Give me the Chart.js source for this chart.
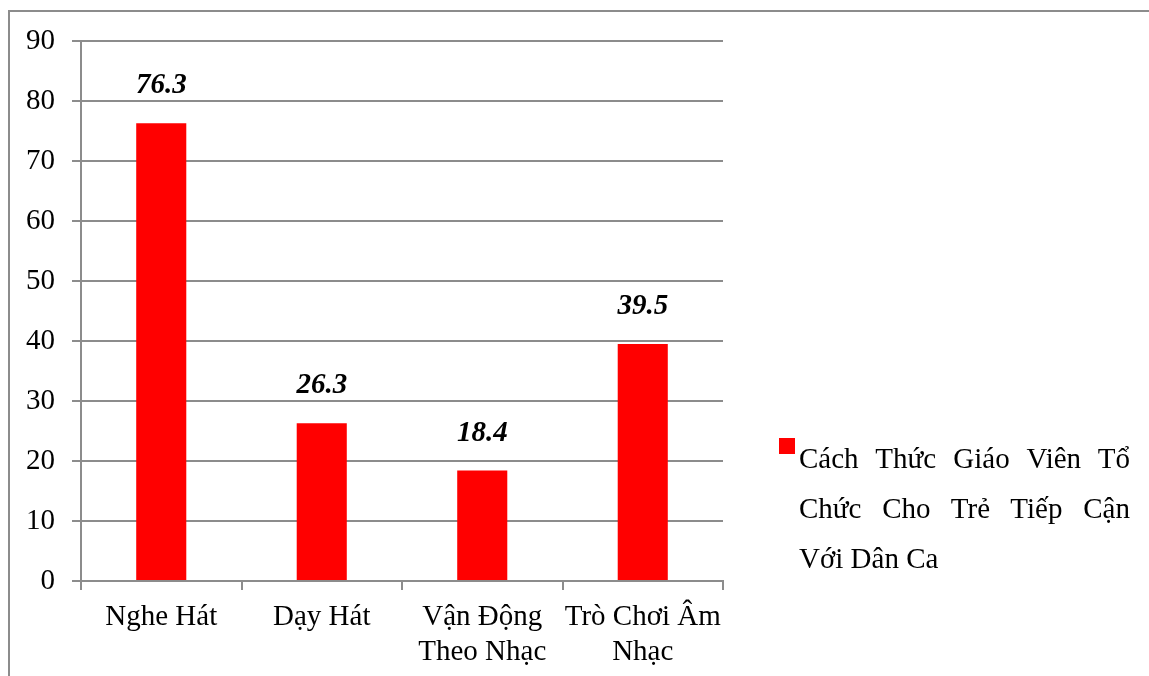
<!DOCTYPE html>
<html>
<head>
<meta charset="utf-8">
<script src="https://cdn.jsdelivr.net/npm/chart.js@4/dist/chart.umd.min.js"></script>
<style>
  html, body { margin: 0; padding: 0; background: #fff; }
  #wrap { position: relative; width: 1149px; height: 676px; }
  #legend {
    position: absolute; left: 799px; top: 433px; width: 331px;
    font-family: "Liberation Serif", "Times New Roman", serif;
    font-size: 29px; line-height: 50px; color: #000;
  }
  #legend .line { display: block; white-space: nowrap; text-align: justify; text-align-last: justify; }
  #legend .line.last { text-align-last: left; }
  #legend .box {
    position: absolute; left: -20px; top: 5px; width: 16px; height: 16px; background: #ff0000;
  }
</style>
</head>
<body>
<div id="wrap">
  <canvas id="barChart" width="1149" height="676"></canvas>
  <div id="legend"><span class="box"></span></div>
</div>
<script>
var categories = ["Nghe Hát", "Dạy Hát", ["Vận Động", "Theo Nhạc"], ["Trò Chơi Âm", "Nhạc"]];
var values = [76.3, 26.3, 18.4, 39.5];
var seriesName = "Cách Thức Giáo Viên Tổ Chức Cho Trẻ Tiếp Cận Với Dân Ca";
var legendLines = ["Cách Thức Giáo Viên Tổ", "Chức Cho Trẻ Tiếp Cận", "Với Dân Ca"];
var yMin = 0, yMax = 90, yStep = 10;

var gray = "#8c8c8c";
var serif = "'Liberation Serif', 'Times New Roman', serif";

// legend text, justified line by line
var legendDiv = document.getElementById("legend");
legendLines.forEach(function(txt, i) {
    var s = document.createElement("span");
    s.className = "line" + (i == legendLines.length - 1 ? " last" : "");
    s.textContent = txt;
    legendDiv.appendChild(s);
});

// outer frame (left and top edges only)
var framePlugin = {
    id: "frame",
    beforeDraw: function(chart) {
        var ctx = chart.ctx;
        ctx.save();
        ctx.fillStyle = gray;
        ctx.fillRect(8, 10, 2, 666);
        ctx.fillRect(8, 10, 1141, 2);
        ctx.restore();
    }
};

// value labels above each bar
var valueLabels = {
    id: "valueLabels",
    afterDatasetsDraw: function(chart) {
        var ctx = chart.ctx;
        var meta = chart.getDatasetMeta(0);
        ctx.save();
        ctx.font = "italic bold 29px " + serif;
        ctx.fillStyle = "#000";
        ctx.textAlign = "center";
        ctx.textBaseline = "alphabetic";
        meta.data.forEach(function(bar, i) {
            ctx.fillText(values[i].toFixed(1), bar.x, bar.y - 30);
        });
        ctx.restore();
    }
};

var ctx = document.getElementById("barChart").getContext("2d");
var chart = new Chart(ctx, {
    type: "bar",
    data: {
        labels: categories,
        datasets: [{
            label: seriesName,
            data: values,
            backgroundColor: "#ff0000",
            borderWidth: 0,
            barPercentage: 0.312,
            categoryPercentage: 1
        }]
    },
    options: {
        responsive: false,
        animation: false,
        layout: { padding: { left: 0, top: 41, right: 426, bottom: 0 } },
        plugins: {
            legend: { display: false },
            tooltip: { enabled: false }
        },
        scales: {
            x: {
                offset: true,
                grid: {
                    offset: true,
                    drawOnChartArea: false,
                    color: gray,
                    lineWidth: 2,
                    tickLength: 9
                },
                border: { display: true, color: gray, width: 2 },
                ticks: {
                    color: "#000",
                    font: { family: serif, size: 29, lineHeight: 1.21 },
                    padding: 10,
                    maxRotation: 0,
                    autoSkip: false
                },
                afterFit: function(scale) { scale.height = 95; }
            },
            y: {
                min: yMin,
                max: yMax,
                grid: {
                    color: gray,
                    lineWidth: 2,
                    tickLength: 9
                },
                border: { display: true, color: gray, width: 2 },
                ticks: {
                    stepSize: yStep,
                    color: "#000",
                    font: { family: serif, size: 29 },
                    padding: 17
                },
                afterFit: function(scale) { scale.width = 81; }
            }
        }
    },
    plugins: [framePlugin, valueLabels]
});
</script>
</body>
</html>
